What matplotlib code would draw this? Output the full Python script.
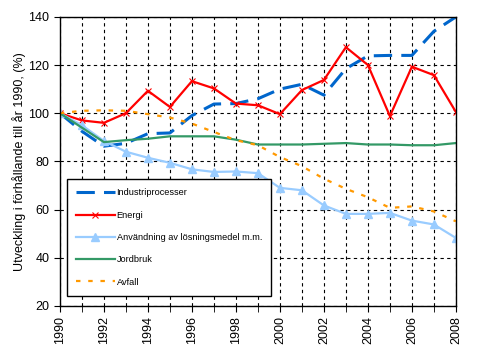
import matplotlib
matplotlib.use("Agg")
import matplotlib.pyplot as plt

years = list(range(1990, 2009))
industri = [100, 92.5, 86.3, 87.5, 91.5, 91.8, 99, 103.8, 104, 106, 110, 112, 107.5, 118.5, 123.8, 124, 124, 134, 140]
energi = [100, 97, 96, 100, 109.3, 102.6, 113.3, 110.3, 104, 103.3, 99.6, 109.6, 113.8, 127.4, 120, 98.8, 119.3, 115.8, 100.5]
losning = [100, 95, 88.5, 84, 81.5, 79.4, 76.7, 75.6, 75.8, 75.1, 69, 68, 61.7, 58.2, 58.2, 58.6, 55.4, 53.8, 48.2]
jordbruk = [100, 94, 88, 88.8, 89.4, 90.4, 90.4, 90.4, 89, 87, 87, 87, 87.3, 87.6, 87, 87, 86.7, 86.7, 87.6]
avfall = [100, 101, 101.2, 101, 99.6, 98.2, 95.7, 92.2, 88.8, 86.7, 81.8, 78, 72.8, 68.6, 65.1, 60.7, 61.3, 59.2, 55.1]
labels = ["Industriprocesser", "Energi", "Användning av lösningsmedel m.m.", "Jordbruk", "Avfall"]

plt.rcParams['font.family'] = ['Liberation Sans', 'DejaVu Sans']
fig = plt.figure(figsize=(4.95, 3.59), dpi=100)
ax = fig.add_axes([0.121, 0.148, 0.8, 0.805])

ax.plot(years, industri, color='#0066CC', lw=2.2, dashes=(6, 3), label=labels[0])
ax.plot(years, energi, color='#FF0000', lw=1.6, marker='x', ms=5, mew=0.8, label=labels[1])
ax.plot(years, losning, color='#99CCFF', lw=1.6, marker='^', ms=6, label=labels[2])
ax.plot(years, jordbruk, color='#339966', lw=1.6, label=labels[3])
ax.plot(years, avfall, color='#FF9900', lw=1.6, dashes=(2, 3.5), label=labels[4])

ax.set_xlim(1990, 2008)
ax.set_ylim(20, 140)
ax.set_xticks(range(1990, 2009, 2))
ax.set_xticks(range(1990, 2009), minor=True)
ax.set_xticklabels([str(y) for y in range(1990, 2009, 2)], rotation=90, fontsize=9)
ax.set_yticks(range(20, 141, 20))
ax.tick_params(axis='y', labelsize=9, length=4, direction='out')
ax.tick_params(axis='x', which='both', length=4, direction='out')
ax.grid(True, which='both', axis='x', color='black', ls=(0, (3, 3)), lw=0.8)
ax.grid(True, which='major', axis='y', color='black', ls=(0, (3, 3)), lw=0.8)
ax.set_axisbelow(True)
ax.set_ylabel("Utveckling i förhållande till år 1990, (%)", fontsize=9, labelpad=2)
for s in ax.spines.values():
    s.set_linewidth(1.0)

leg = ax.legend(loc='lower left', bbox_to_anchor=(0.018, 0.035), borderaxespad=0,
                fontsize=6.6, frameon=True,
                fancybox=False, edgecolor='black', framealpha=1, handlelength=4.2,
                labelspacing=1.45, borderpad=1.0, handletextpad=0.2)
leg.get_frame().set_linewidth(1.0)

fig.savefig("out.png", dpi=100)
